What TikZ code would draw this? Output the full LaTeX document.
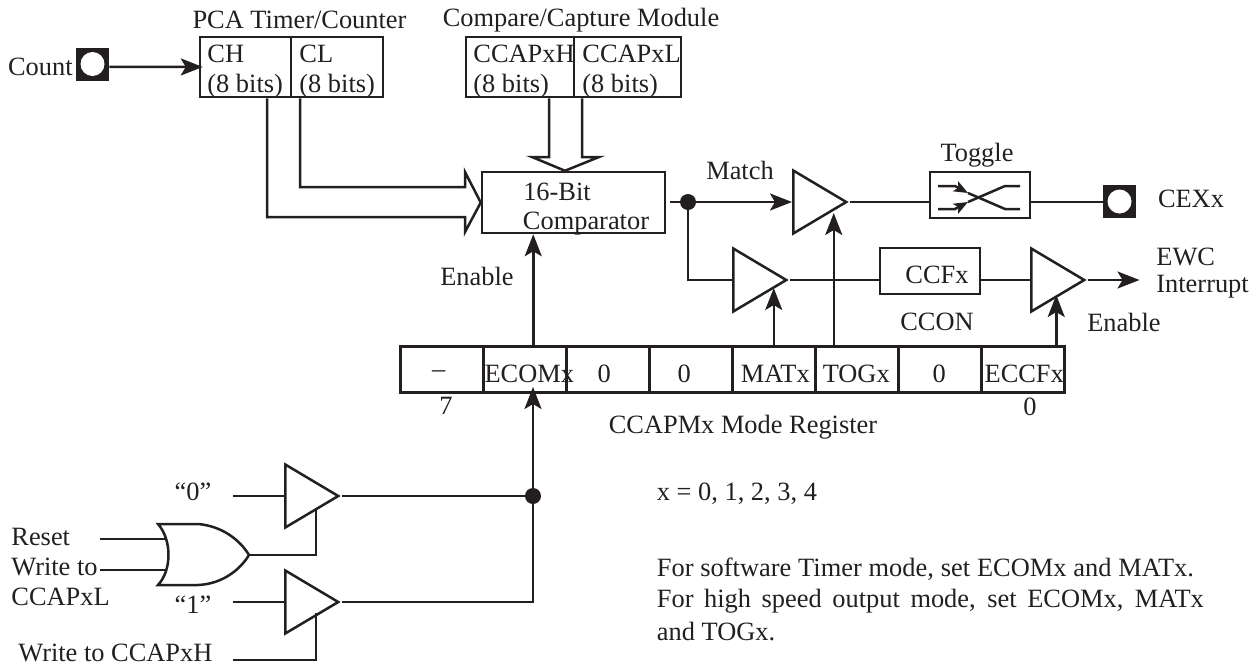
\documentclass[tikz,border=0pt]{standalone}
\usepackage{fontspec}
\setmainfont{Liberation Serif}
\usepackage{xcolor}
\usetikzlibrary{shapes.geometric, arrows.meta, positioning, calc}
\definecolor{inkblack}{HTML}{231F20}

\begin{document}
\begin{tikzpicture}[
    x=0.5pt, y=-0.5pt,
    every node/.style={font=\fontsize{13.2}{15}\selectfont, text=inkblack, inner sep=0pt},
    wire/.style={draw=inkblack, line width=1.25pt, line join=miter},
    arrow/.style={wire, -{Stealth[length=11pt, width=8.5pt, inset=2.5pt]}},
    smallarrow/.style={wire, -{Stealth[length=7pt, width=5.5pt, inset=1.5pt]}},
    regbox/.style={rectangle, draw=inkblack, line width=1.25pt, fill=white},
    regcell/.style={regbox, minimum width=41.5pt, minimum height=23pt, anchor=north west},
    buffer/.style={isosceles triangle, isosceles triangle stretches, draw=inkblack, line width=1.25pt, fill=white, minimum width=31.5pt, minimum height=26.5pt, anchor=lower side},
    pad/.style={rectangle, fill=inkblack, minimum size=16.5pt},
    padhole/.style={circle, fill=white, minimum size=12pt},
    jdot/.style={circle, fill=inkblack, minimum size=8pt}
]
    \useasboundingbox (0,0) rectangle (1260,665);

    % Timer and capture registers
    \node[regbox, minimum width=91.5pt, minimum height=30pt] (pca) at (291.5,67) {};
    \draw[inkblack, line width=0.6pt] ([xshift=-0.25pt]pca.north) -- ([xshift=-0.25pt]pca.south);
    \node (pcatitle) at (299.5,20) {PCA Timer/Counter};
    \node[anchor=west] (chname) at (207,54) {CH};
    \node[anchor=west] (chbits) at (207,86) {(8 bits)};
    \node[anchor=west] (clname) at (299,54) {CL};
    \node[anchor=west] (clbits) at (299,86) {(8 bits)};

    \node[regbox, minimum width=107.5pt, minimum height=30pt] (ccap) at (573.5,67) {};
    \draw[inkblack, line width=0.6pt] ([xshift=0.25pt]ccap.north) -- ([xshift=0.25pt]ccap.south);
    \node (ccaptitle) at (581,20) {Compare/Capture Module};
    \node[anchor=west] (ccaphname) at (473,54) {CCAPxH};
    \node[anchor=west] (ccaphbits) at (473,86) {(8 bits)};
    \node[anchor=west] (ccaplname) at (582,54) {CCAPxL};
    \node[anchor=west] (ccaplbits) at (582,86) {(8 bits)};

    % Count input
    \node[pad] (countpad) at (92.5,64) {};
    \node[padhole] (counthole) at (92.5,64) {};
    \node[anchor=east] (countlabel) at (73,67) {Count};
    \draw[arrow] ([yshift=-1.4pt]countpad.east) -- ([xshift=2pt]pca.west);

    % Comparator
    \node[regbox, minimum width=91.5pt, minimum height=30.5pt] (cmp) at (573.5,202.5) {};
    \node (cmptop) at (557,192) {16-Bit};
    \node (cmpbot) at (586,224) {Comparator};
    \coordinate (chout) at ([xshift=-12.25pt]pca.south);
    \coordinate (clout) at ([xshift=4.25pt]pca.south);
    \coordinate (ccaphout) at ([xshift=-12.25pt]ccap.south);
    \coordinate (ccaplout) at ([xshift=4.25pt]ccap.south);
    \draw[wire] (clout) |- (465,187) -- (465,172) -- (cmp.west) -- (465,232) -- (465,217) -| (chout);
    \draw[wire] (ccaphout) |- (532,157) -- ([xshift=-4.25pt]cmp.north) -- (599,157) -| (ccaplout);

    % Match path
    \coordinate (cmpout) at (670,202);
    \node[jdot] (matchdot) at (688,202) {};
    \node[buffer] (bufmatch) at (792,202) {};
    \node (matchlabel) at (740,170) {Match};
    \draw[arrow] (cmpout) -- (bufmatch.lower side);
    \node[regbox, minimum width=50pt, minimum height=23pt] (toggle) at (980,195) {};
    \node (togglelabel) at (977,155) {Toggle};
    \node[pad] (cexpad) at (1119.5,201.5) {};
    \node[padhole] (cexhole) at (1119.5,201.5) {};
    \node (cexlabel) at (1191,199) {CEXx};
    \draw[wire] (bufmatch.apex) -- (toggle.west |- bufmatch.apex);
    \draw[wire] (toggle.east |- bufmatch.apex) -- (cexpad.west |- bufmatch.apex);
    \begin{scope}[shift={(toggle.center)}]
        \draw[smallarrow] (-42,-9) -- (-25,-9) -- (-12,-2);
        \draw[wire] (-12,-2) -- (25,14) -- (40,14);
        \draw[smallarrow] (-42,14) -- (-25,14) -- (-12,7);
        \draw[wire] (-12,7) -- (25,-9) -- (40,-9);
    \end{scope}

    % Capture flag path
    \node[buffer] (bufcap) at (732,280) {};
    \node[regbox, minimum width=50pt, minimum height=23pt] (ccf) at (930,271) {};
    \node (ccflabel) at (937,275) {CCFx};
    \node (cconlabel) at (937,322) {CCON};
    \node[buffer] (bufint) at (1030,280) {};
    \draw[wire] (matchdot) |- (bufcap.lower side);
    \draw[wire] (bufcap.apex) -- (ccf.west |- bufcap.apex);
    \draw[wire] (ccf.east |- bufint.lower side) -- (bufint.lower side);
    \coordinate[right=26pt of bufint.apex] (intout);
    \draw[arrow] (bufint.apex) -- (intout);
    \node[anchor=west] (ewclabel) at (1156,257) {EWC};
    \node[anchor=west] (intlabel) at (1156,287) {Interrupt};
    \node (enblabelb) at (1124,322) {Enable};

    % Mode register cells
    \foreach \i in {0,...,7}
        \node[regcell] (reg\i) at (399+83*\i,345) {};
    \foreach \txt/\dx [count=\i from 0] in {--/-3,ECOMx/4.5,0/-3.5,0/-6.5,MATx/1.5,TOGx/-0.5,0/-0.5,ECCFx/1.5}
        \node (regtxt\i) at ($(reg\i.center)+(\dx,5)$) {\txt};
    \node (bitseven) at (446,406) {7};
    \node (bitzero) at (1030,407) {0};
    \node (regname) at (743,427) {CCAPMx Mode Register};

    % Enable arrows
    \coordinate (ecomtop) at ([xshift=4.25pt]reg1.north);
    \node (enblabela) at (477,276) {Enable};
    \draw[arrow] (ecomtop) -- (ecomtop |- cmp.south);
    \draw[arrow] (reg4.north) -- ++(0,-57);
    \draw[arrow] ([xshift=-11.5pt]reg5.north) -- ++(0,-132);
    \draw[arrow] ([xshift=16.75pt]reg7.north) -- ++(0,-50);

    % Write logic
    \node[buffer] (bufzero) at (284,496) {};
    \node[buffer] (bufone) at (284,602) {};
    \node[jdot] (writedot) at (533,496) {};
    \node (zerolabel) at (193,492) {``0''};
    \node (onelabel) at (193,605) {``1''};
    \coordinate[left=25.5pt of bufzero.lower side] (zeroin);
    \coordinate[left=25.5pt of bufone.lower side] (onein);
    \draw[wire] (zeroin) -- (bufzero.lower side);
    \draw[wire] (onein) -- (bufone.lower side);
    \draw[wire] (bufzero.apex) -- (writedot);
    \draw[wire] (bufone.apex) -| (writedot);
    \draw[arrow] (writedot) -- (533,387);

    % OR gate
    \coordinate (orout) at (249,555);
    \draw[wire, fill=white] (158,524) -- (198,524) .. controls (222,526) and (240,540) .. (orout) .. controls (240,570) and (222,584) .. (198,585) -- (158,585) .. controls (172,570) and (172,540) .. cycle;
    \node[anchor=west] (resetlabel) at (11,537) {Reset};
    \node[anchor=west] (writelabel) at (11,567) {Write to};
    \node[anchor=west] (ccapllabel) at (11,597) {CCAPxL};
    \node[anchor=west] (ccaphlabel) at (18,653) {Write to CCAPxH};
    \coordinate (resetin) at (100,539);
    \coordinate (writein) at (100,570);
    \coordinate (writeh) at (233,660);
    \draw[wire] (resetin) -- (167,539);
    \draw[wire] (writein) -- (167,570);
    \draw[wire] (orout) -- (316,555) -- (316,508);
    \draw[wire] (writeh) -- (316,660) -- (316,613);

    % Notes
    \node[anchor=west] (noterange) at (656.5,494) {x = 0, 1, 2, 3, 4};
    \node[anchor=west] (notea) at (656.5,569) {\makebox[268.5pt][s]{For software Timer mode, set ECOMx and MATx.}};
    \node[anchor=west] (noteb) at (656.5,601) {\makebox[273.5pt][s]{For high speed output mode, set ECOMx, MATx}};
    \node[anchor=west] (notec) at (656.5,632) {and TOGx.};
\end{tikzpicture}
\end{document}
